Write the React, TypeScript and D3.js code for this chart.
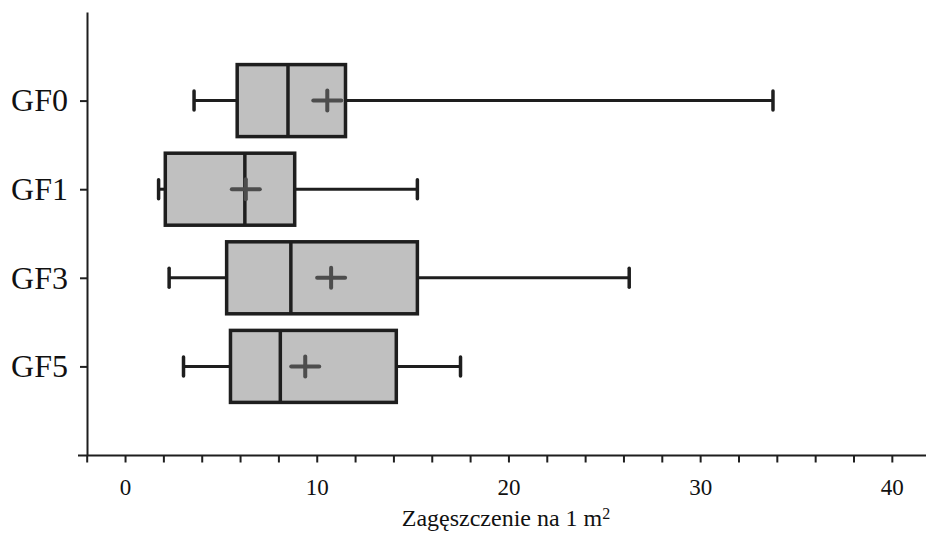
import React, { useEffect, useRef } from "react";
import * as d3 from "d3";

// Data
const groups = ["GF0", "GF1", "GF3", "GF5"];
const whiskerLow = [3.6, 1.75, 2.3, 3.05];
const q1 = [5.85, 2.1, 5.3, 5.5];
const median = [8.5, 6.25, 8.65, 8.1];
const q3 = [11.5, 8.85, 15.25, 14.15];
const whiskerHigh = [33.8, 15.25, 26.3, 17.5];
const means = [10.55, 6.3, 10.75, 9.4];
const xTickValues = d3.range(-2, 43, 2);
const xTitle = "Zagęszczenie na 1 m";

const W = 926;
const H = 537;
const FONT = "'Liberation Serif', 'Times New Roman', serif";

export default function App() {
  const svgRef = useRef<SVGSVGElement | null>(null);

  useEffect(() => {
    const svg = d3.select(svgRef.current);
    svg.selectAll("*").remove();

    const x = d3.scaleLinear().domain([-2, 42]).range([86.7, 86.7 + 44 * 19.17]);
    const y = d3.scalePoint<string>().domain(groups).range([12, 455]).padding(1);
    const axisY = 455.5;
    const ink = "#1e1e1e";

    // x axis
    const gx = svg.append("g").attr("transform", `translate(0,${axisY})`);
    gx.call(
      d3.axisBottom(x)
        .tickValues(xTickValues)
        .tickSize(7)
        .tickSizeOuter(0)
        .tickPadding(16)
        .tickFormat((d) => ((d as number) % 10 === 0 && (d as number) >= 0 ? String(d) : ""))
    );
    gx.select(".domain").remove();
    gx.append("line")
      .attr("x1", 78).attr("x2", W)
      .attr("stroke", ink).attr("stroke-width", 2);
    gx.selectAll(".tick line").attr("stroke", ink).attr("stroke-width", 2);
    gx.selectAll(".tick text")
      .attr("fill", "#111")
      .style("font-family", FONT)
      .style("font-size", "23px");

    // y axis
    const gy = svg.append("g").attr("transform", "translate(87,0)");
    gy.call(d3.axisLeft(y).tickSize(7).tickSizeOuter(0).tickPadding(12));
    gy.select(".domain").attr("stroke", ink).attr("stroke-width", 2);
    gy.selectAll(".tick line").attr("stroke", ink).attr("stroke-width", 2);
    gy.selectAll(".tick text")
      .attr("fill", "#111")
      .attr("dy", "0.32em")
      .style("font-family", FONT)
      .style("font-size", "32px");

    // boxes
    const boxH = 72;
    const capH = 19;
    const g = svg.append("g");
    groups.forEach((name, i) => {
      const cy = y(name) as number;
      const row = g.append("g");
      // whiskers
      row.append("line")
        .attr("x1", x(whiskerLow[i])).attr("x2", x(q1[i]))
        .attr("y1", cy).attr("y2", cy)
        .attr("stroke", ink).attr("stroke-width", 3);
      row.append("line")
        .attr("x1", x(q3[i])).attr("x2", x(whiskerHigh[i]))
        .attr("y1", cy).attr("y2", cy)
        .attr("stroke", ink).attr("stroke-width", 3);
      [whiskerLow[i], whiskerHigh[i]].forEach((v) => {
        row.append("line")
          .attr("x1", x(v)).attr("x2", x(v))
          .attr("y1", cy - capH / 2).attr("y2", cy + capH / 2)
          .attr("stroke", ink).attr("stroke-width", 3.5)
          .attr("stroke-linecap", "round");
      });
      // box
      row.append("rect")
        .attr("x", x(q1[i]))
        .attr("y", cy - boxH / 2)
        .attr("width", x(q3[i]) - x(q1[i]))
        .attr("height", boxH)
        .attr("fill", "#c0c0c0")
        .attr("stroke", ink)
        .attr("stroke-width", 3.5);
      // median
      row.append("line")
        .attr("x1", x(median[i])).attr("x2", x(median[i]))
        .attr("y1", cy - boxH / 2).attr("y2", cy + boxH / 2)
        .attr("stroke", ink).attr("stroke-width", 3.5);
      // mean marker
      const mx = x(means[i]);
      row.append("line")
        .attr("x1", mx - 14).attr("x2", mx + 14)
        .attr("y1", cy).attr("y2", cy)
        .attr("stroke", "#4d4d4d").attr("stroke-width", 4)
        .attr("stroke-linecap", "round");
      row.append("line")
        .attr("x1", mx).attr("x2", mx)
        .attr("y1", cy - 10).attr("y2", cy + 10)
        .attr("stroke", "#4d4d4d").attr("stroke-width", 4)
        .attr("stroke-linecap", "round");
    });

    // x title
    const t = svg.append("text")
      .attr("x", 506)
      .attr("y", 526)
      .attr("text-anchor", "middle")
      .attr("fill", "#111")
      .style("font-family", FONT)
      .style("font-size", "24px")
      .text(xTitle);
    t.append("tspan")
      .attr("dy", "-0.45em")
      .style("font-size", "16px")
      .text("2");
  }, []);

  return (
    <svg
      ref={svgRef}
      width={W}
      height={H}
      style={{ position: "absolute", left: 0, top: 0, background: "#fff" }}
    />
  );
}
